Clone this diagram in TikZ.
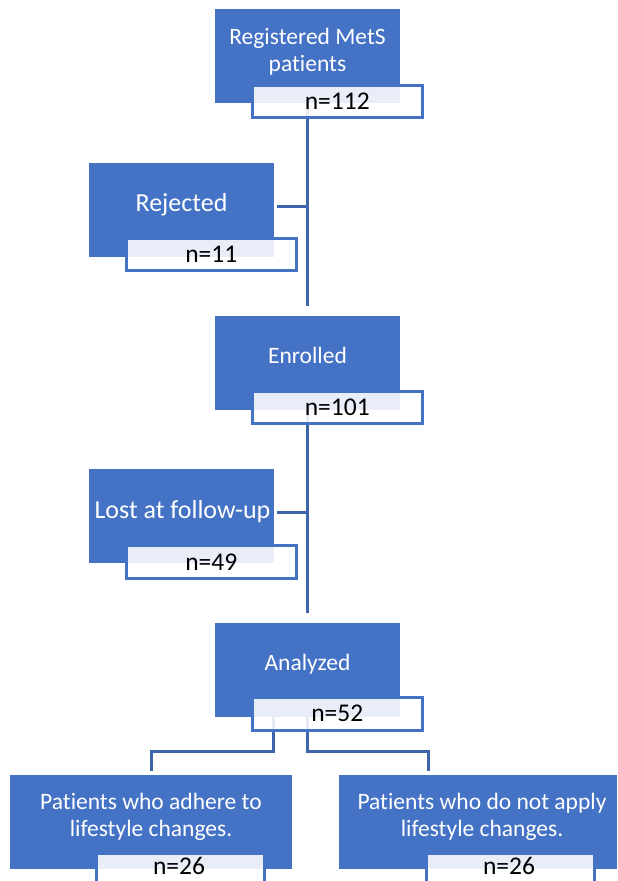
\documentclass[tikz,border=0pt]{standalone}
\usepackage{fontspec}
\setmainfont{Carlito}[Ligatures=NoCommon]

\begin{document}
\begin{tikzpicture}[x=1pt,y=-1pt,line width=0.4pt,
  stagebox/.style={fill=boxblue,anchor=north west,inner sep=0pt,minimum height=94pt},
  stagetext/.style={text=white,font=\fmain,align=center,inner sep=0pt},
  countbox/.style={draw=boxblue,line width=2.5pt,fill=white,fill opacity=0.88,text opacity=1,
    anchor=north west,inner sep=0pt,minimum width=170pt,minimum height=32pt,font=\fcount},
  counttext/.style={font=\fcount,inner sep=0pt,anchor=base},
  link/.style={draw=linkblue,line width=3pt}]
\definecolor{boxblue}{RGB}{68,114,196}
\definecolor{linkblue}{RGB}{62,100,172}
\providecommand{\fmain}{\fontsize{23.5}{27}\selectfont}
\providecommand{\fside}{\fontsize{26}{30}\selectfont}
\providecommand{\fcount}{\fontsize{25.5}{30}\selectfont}
\clip (0,0) rectangle (618,881);
% stages
\node[stagebox,minimum width=185pt] (reg) at (215,9) {};
\node[stagebox,minimum width=185pt] (rej) at (89,163) {};
\node[stagebox,minimum width=185pt] (enr) at (215,316) {};
\node[stagebox,minimum width=185pt] (lost) at (89,469) {};
\node[stagebox,minimum width=185pt] (ana) at (215,623) {};
\node[stagebox,minimum width=282pt] (adh) at (10,775) {};
\node[stagebox,minimum width=278pt] (nap) at (339,775) {};
\node[stagetext] (regtext) at (307.5,52) {Registered MetS\\patients};
\node[stagetext,font=\fside,anchor=base] (rejtext) at (181.5,211) {Rejected};
\node[stagetext,anchor=base] (enrtext) at (307.5,363) {Enrolled};
\node[stagetext,font=\fside,anchor=base] (losttext) at (182.5,518) {Lost at follow-up};
\node[stagetext,anchor=base] (anatext) at (307.5,670) {Analyzed};
\node[stagetext] (adhtext) at (151,817) {Patients who adhere to\\lifestyle changes.};
\node[stagetext] (naptext) at (482,817) {Patients who do not apply\\lifestyle changes.};
% connectors
\draw[link] (reg.south) -- ([yshift=10pt]enr.north);
\draw[link] ([xshift=3pt,yshift=4pt]rej.east) -- ([yshift=4pt]rej.east -| reg.south);
\draw[link] (enr.south) -- ([yshift=10pt]ana.north);
\draw[link] ([xshift=3pt,yshift=4pt]lost.east) -- ([yshift=4pt]lost.east -| enr.south);
\draw[link] ([xshift=58pt]ana.south west) -- ++(0,34) -| ([yshift=4pt]adh.north);
\draw[link] (ana.south) -- ++(0,34) -| ([xshift=89pt,yshift=4pt]nap.north west);
% counts
\node[countbox] (regn) at (251,84) {n=112};
\node[countbox] (rejn) at (125,237) {n=11};
\node[countbox] (enrn) at (251,390) {n=101};
\node[countbox,minimum height=33pt] (lostn) at (125,544) {n=49};
\node[countbox,minimum height=33pt] (anan) at (251,696) {n=52};
\node[countbox,minimum width=168pt] (adhn) at (95,852) {};
\node[countbox,minimum width=168pt] (napn) at (425,852) {};
\node[counttext] (adhcount) at (179,874) {n=26};
\node[counttext] (napcount) at (509,874) {n=26};
\end{tikzpicture}
\end{document}
